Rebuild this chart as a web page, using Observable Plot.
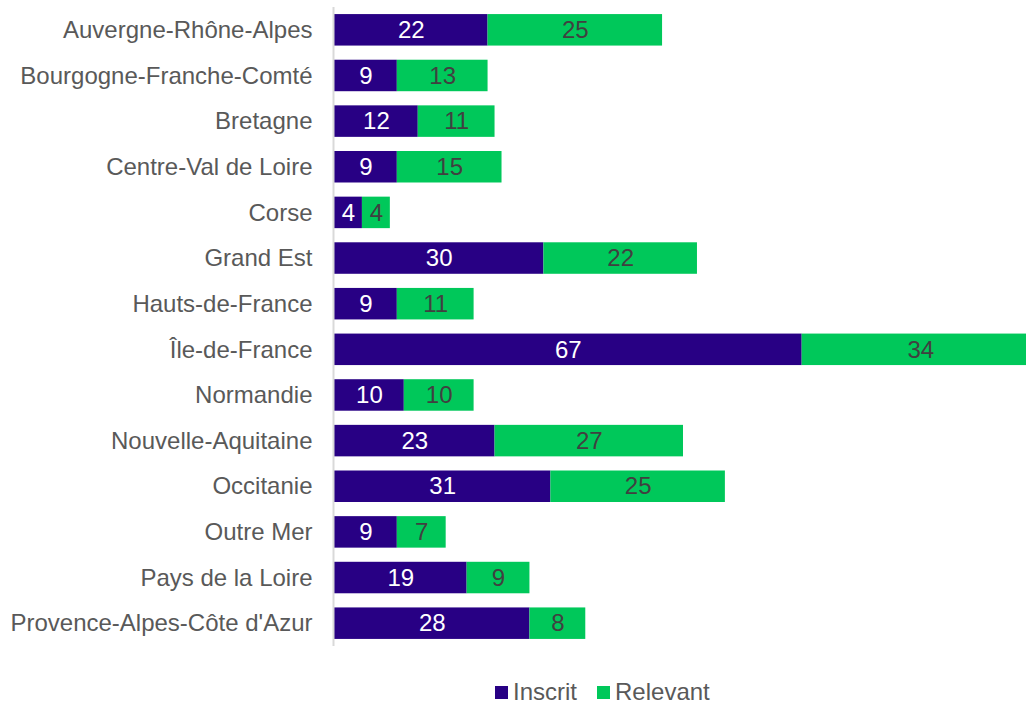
<!DOCTYPE html>
<html>
<head>
<meta charset="utf-8">
<script src="https://cdn.jsdelivr.net/npm/d3@7"></script>
<script src="https://cdn.jsdelivr.net/npm/@observablehq/plot@0.6"></script>
<style>
  body { margin: 0; background: #fff; font-family: "Liberation Sans", Arial, sans-serif; }
  #wrap { position: relative; width: 1026px; height: 706px; overflow: hidden; }
  #legend { position: absolute; top: 682px; left: 495px; display: flex; align-items: center; font-size: 24px; line-height: 20px; height: 20px; color: #595959; }
  .sw { width: 13px; height: 13px; display: inline-block; margin-right: 5px; }
  .item { display: flex; align-items: center; margin-right: 20px; }
</style>
</head>
<body>
<div id="wrap"><div id="chart"></div><div id="legend"></div></div>
<script>
const regions = ["Auvergne-Rhône-Alpes","Bourgogne-Franche-Comté","Bretagne","Centre-Val de Loire","Corse","Grand Est","Hauts-de-France","Île-de-France","Normandie","Nouvelle-Aquitaine","Occitanie","Outre Mer","Pays de la Loire","Provence-Alpes-Côte d'Azur"];
const inscrit = [22,9,12,9,4,30,9,67,10,23,31,9,19,28];
const relevant = [25,13,11,15,4,22,11,34,10,27,25,7,9,8];
const seriesNames = ["Inscrit","Relevant"];
const colors = ["#280084","#00C85A"];

const data = [];
regions.forEach((r, i) => {
  data.push({region: r, series: "Inscrit", value: inscrit[i]});
  data.push({region: r, series: "Relevant", value: relevant[i]});
});

const chart = Plot.plot({
  width: 1026,
  height: 660,
  marginLeft: 334,
  marginRight: 0,
  marginTop: 7,
  marginBottom: 14,
  style: {fontFamily: "'Liberation Sans', Arial, sans-serif", fontSize: "24px", background: "white"},
  x: {domain: [0, 99.14], axis: null},
  y: {domain: regions, paddingInner: 0.31, paddingOuter: 0.155, round: false, label: null},
  color: {domain: seriesNames, range: colors},
  marks: [
    Plot.barX(data, Plot.stackX({x: "value", y: "region", fill: "series"})),
    Plot.text(data, Plot.stackX({x: "value", y: "region", text: "value", fontSize: 24, fill: d => d.series === "Inscrit" ? "white" : "#404040", z: "series"})),
    Plot.ruleX([0], {stroke: "#d9d9d9", strokeWidth: 2, dx: -1}),
    Plot.axisY({tickSize: 0, tickPadding: 22, fontSize: 24, fill: "#595959", label: null})
  ]
});
document.getElementById("chart").appendChild(chart);

const legend = document.getElementById("legend");
seriesNames.forEach((s, i) => {
  const it = document.createElement("div");
  it.className = "item";
  const sw = document.createElement("span");
  sw.className = "sw";
  sw.style.background = colors[i];
  it.appendChild(sw);
  it.appendChild(document.createTextNode(s));
  legend.appendChild(it);
});
</script>
</body>
</html>
